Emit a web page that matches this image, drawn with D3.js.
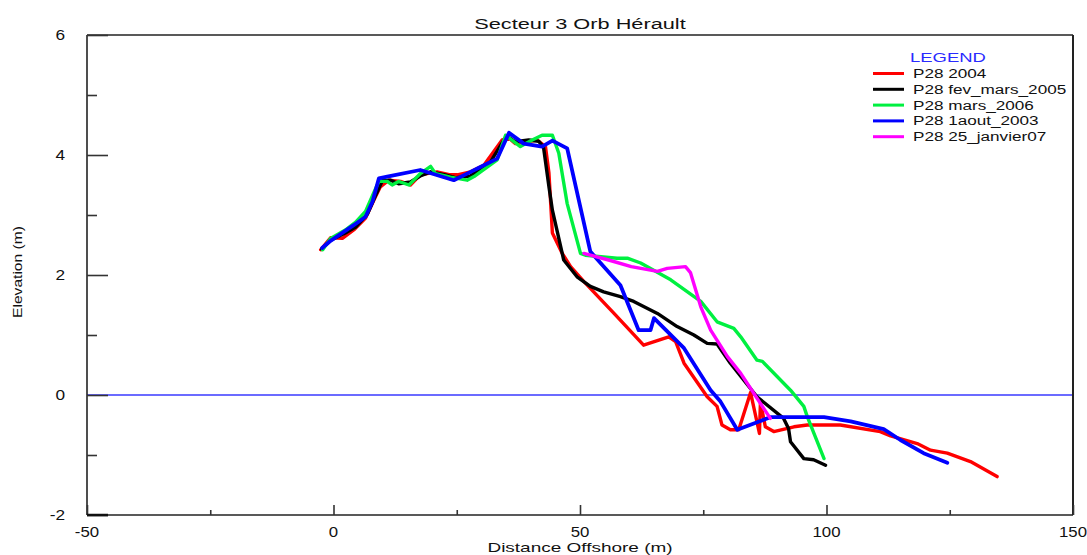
<!DOCTYPE html>
<html>
<head>
<meta charset="utf-8">
<script src="https://cdn.jsdelivr.net/npm/d3@7"></script>
<style>
  html, body { margin: 0; padding: 0; background: #fff; }
  svg { display: block; }
  text { font-family: "Liberation Sans", Arial, sans-serif; fill: #111; }
</style>
</head>
<body>
<svg id="chart" width="1087" height="555"></svg>
<script>
// Beach profile P28, sector 3 Orb / Hérault: [distance offshore (m), elevation (m)]
const p2004 = [[-2.6,2.42],[-0.6,2.62],[1.8,2.61],[4.1,2.75],[6.5,2.95],[8.2,3.25],[9.5,3.47],[11.2,3.58],[13.6,3.56],[15.6,3.50],[17.6,3.67],[21.0,3.72],[23.7,3.67],[25.1,3.67],[27.8,3.72],[30.5,3.83],[34.2,4.25],[35.6,4.28],[36.9,4.19],[41.3,4.25],[43.0,4.14],[43.7,3.70],[44.4,2.70],[46.4,2.36],[48.1,2.14],[50.8,1.89],[56.9,1.36],[62.9,0.83],[68.0,0.97],[69.4,0.89],[71.1,0.53],[75.8,-0.03],[77.8,-0.19],[78.8,-0.50],[80.5,-0.58],[82.2,-0.58],[84.6,0.04],[86.4,-0.64],[86.6,-0.12],[87.6,-0.53],[89.3,-0.61],[93.4,-0.53],[96.1,-0.50],[102.8,-0.50],[110.9,-0.61],[113.0,-0.68],[118.4,-0.81],[121.1,-0.92],[124.5,-0.97],[129.2,-1.11],[134.6,-1.36]];
const pFevMars2005 = [[-2.4,2.43],[-0.6,2.58],[2.4,2.70],[4.5,2.80],[6.9,3.02],[8.5,3.32],[9.9,3.57],[11.6,3.58],[13.2,3.52],[15.6,3.55],[17.6,3.65],[19.7,3.72],[22.7,3.67],[24.9,3.62],[27.8,3.65],[31.8,3.88],[35.1,4.32],[36.9,4.22],[39.6,4.25],[41.6,4.23],[42.6,4.13],[43.7,3.47],[44.4,3.08],[46.7,2.25],[49.4,1.97],[52.1,1.81],[54.8,1.72],[58.2,1.64],[60.9,1.56],[65.7,1.36],[69.7,1.14],[73.1,1.00],[75.8,0.86],[77.8,0.85],[80.5,0.53],[85.9,-0.03],[91.3,-0.39],[92.3,-0.56],[92.7,-0.78],[95.4,-1.06],[97.4,-1.08],[99.8,-1.17]];
const pMars2006 = [[-2.2,2.42],[-0.6,2.61],[2.4,2.75],[4.5,2.88],[6.5,3.06],[7.9,3.32],[9.2,3.56],[10.9,3.56],[11.9,3.50],[13.2,3.56],[15.3,3.50],[17.6,3.69],[19.7,3.81],[20.7,3.69],[23.7,3.63],[27.1,3.58],[28.5,3.64],[33.2,3.92],[34.9,4.33],[37.9,4.14],[40.3,4.25],[42.3,4.33],[44.4,4.33],[45.7,4.03],[47.4,3.19],[50.1,2.36],[51.1,2.33],[57.5,2.28],[59.6,2.28],[62.3,2.20],[68.4,1.92],[74.5,1.56],[77.8,1.22],[81.2,1.11],[82.6,0.97],[85.9,0.58],[87.0,0.56],[92.7,0.08],[95.4,-0.19],[96.1,-0.36],[99.5,-1.06]];
const pAout2003 = [[-2.3,2.45],[-0.6,2.57],[4.1,2.83],[6.5,2.97],[7.9,3.22],[9.2,3.61],[10.9,3.64],[17.6,3.75],[24.4,3.58],[27.1,3.69],[29.8,3.80],[33.2,3.94],[35.6,4.37],[38.6,4.19],[42.3,4.14],[44.4,4.24],[47.4,4.11],[52.1,2.39],[58.2,1.83],[61.9,1.08],[64.3,1.08],[65.0,1.28],[71.1,0.78],[76.5,0.08],[78.5,-0.11],[81.9,-0.58],[87.0,-0.42],[88.6,-0.37],[99.5,-0.37],[104.9,-0.44],[111.6,-0.57],[115.0,-0.75],[119.7,-0.97],[124.5,-1.13]];
const pJanvier07 = [[50.8,2.36],[55.8,2.25],[60.4,2.14],[65.7,2.06],[67.7,2.11],[71.4,2.14],[72.4,2.04],[74.5,1.47],[76.5,1.08],[79.9,0.64],[82.6,0.36],[88.6,-0.39]];

const seriesNames = ["P28 2004", "P28 fev_mars_2005", "P28 mars_2006", "P28 1aout_2003", "P28 25_janvier07"];
const seriesData = [p2004, pFevMars2005, pMars2006, pAout2003, pJanvier07];
const seriesColors = ["#ff0000", "#000000", "#00f040", "#0000ff", "#ff00ff"];

const xMajorTicks = [-50, 0, 50, 100, 150];
const xMinorTicks = [-25, 25, 75, 125];
const yMajorTicks = [-2, 0, 2, 4, 6];
const yMinorTicks = [-1, 1, 3, 5];

const titleText = "Secteur 3 Orb Hérault";
const xTitle = "Distance Offshore (m)";
const yTitle = "Elevation (m)";
const legendTitle = "LEGEND";

const svg = d3.select("#chart");
const plotLeft = 87, plotRight = 1073, plotTop = 35, plotBottom = 515;

const x = d3.scaleLinear().domain([-50, 150]).range([plotLeft, plotRight]);
const y = d3.scaleLinear().domain([-2, 6]).range([plotBottom, plotTop]);

// text drawn in a wide face: horizontal stretch around its anchor point
function wideText(g, tx, ty, str, size, sx, anchor, color) {
  return g.append("text")
    .attr("transform", `translate(${tx},${ty}) scale(${sx},1)`)
    .attr("text-anchor", anchor || "start")
    .style("font-size", size + "px")
    .style("fill", color || "#111")
    .text(str);
}

// zero elevation reference
svg.append("line")
  .attr("x1", x(-50)).attr("x2", x(150))
  .attr("y1", y(0)).attr("y2", y(0))
  .attr("stroke", "#3a3aff").attr("stroke-width", 1.3);

// frame
const frame = svg.append("g").attr("stroke", "#222").attr("fill", "none");
frame.append("line").attr("x1", plotLeft).attr("x2", plotRight).attr("y1", plotTop).attr("y2", plotTop).attr("stroke-width", 1.4);
frame.append("line").attr("x1", plotRight).attr("x2", plotRight).attr("y1", plotTop).attr("y2", plotBottom).attr("stroke-width", 2);
frame.append("line").attr("x1", plotLeft).attr("x2", plotLeft).attr("y1", plotTop).attr("y2", plotBottom).attr("stroke-width", 1.6);
frame.append("line").attr("x1", plotLeft).attr("x2", plotRight).attr("y1", plotBottom).attr("y2", plotBottom).attr("stroke-width", 1.6);

// axes ticks (drawn inward)
const yAxisMajor = d3.axisRight(y).tickValues(yMajorTicks).tickSize(21).tickFormat("");
const yAxisMinor = d3.axisRight(y).tickValues(yMinorTicks).tickSize(10).tickFormat("");
const xAxisMajor = d3.axisTop(x).tickValues(xMajorTicks).tickSize(10).tickFormat("");
const xAxisMinor = d3.axisTop(x).tickValues(xMinorTicks).tickSize(5).tickFormat("");

[[yAxisMajor, `translate(${plotLeft},0)`], [yAxisMinor, `translate(${plotLeft},0)`],
 [xAxisMajor, `translate(0,${plotBottom})`], [xAxisMinor, `translate(0,${plotBottom})`]].forEach(([ax, tr]) => {
  const g = svg.append("g").attr("transform", tr).call(ax);
  g.select(".domain").remove();
  g.selectAll(".tick line").attr("stroke", "#333").attr("stroke-width", 1.6);
});
// heavier tick at the lower-left corner
svg.append("line").attr("x1", plotLeft).attr("x2", plotLeft + 21).attr("y1", y(-2)).attr("y2", y(-2))
  .attr("stroke", "#111").attr("stroke-width", 2.5);

// tick labels
const labels = svg.append("g");
yMajorTicks.forEach(v => {
  wideText(labels, 65, y(v) + 5, String(v), 15, 1.15, "end");
});
xMajorTicks.forEach(v => {
  wideText(labels, x(v), 537, String(v), 14, 1.2, "middle");
});

// titles
wideText(svg, 580, 29, titleText, 15, 1.45, "middle");
wideText(svg, 580, 552, xTitle, 13, 1.46, "middle");
svg.append("text")
  .attr("transform", `translate(22,272) rotate(-90) scale(1.2,1)`)
  .attr("text-anchor", "middle")
  .style("font-size", "13px")
  .text(yTitle);

// profiles
const line = d3.line().x(d => x(d[0])).y(d => y(d[1]));
const plot = svg.append("g");
seriesData.forEach((data, i) => {
  plot.append("path")
    .datum(data)
    .attr("d", line)
    .attr("fill", "none")
    .attr("stroke", seriesColors[i])
    .attr("stroke-width", i === 3 ? 3.8 : 3.4)
    .attr("stroke-linejoin", "round")
    .attr("stroke-linecap", "round");
});

// legend
const legend = svg.append("g");
wideText(legend, 910, 62, legendTitle, 13, 1.42, "start", "#2a2aff");
seriesNames.forEach((name, i) => {
  const cy = 73.5 + i * 15.8;
  legend.append("line")
    .attr("x1", 873).attr("x2", 904).attr("y1", cy).attr("y2", cy)
    .attr("stroke", seriesColors[i]).attr("stroke-width", 3);
  wideText(legend, 913, cy + 4.5, name, 12.5, 1.37, "start");
});
</script>
</body>
</html>
